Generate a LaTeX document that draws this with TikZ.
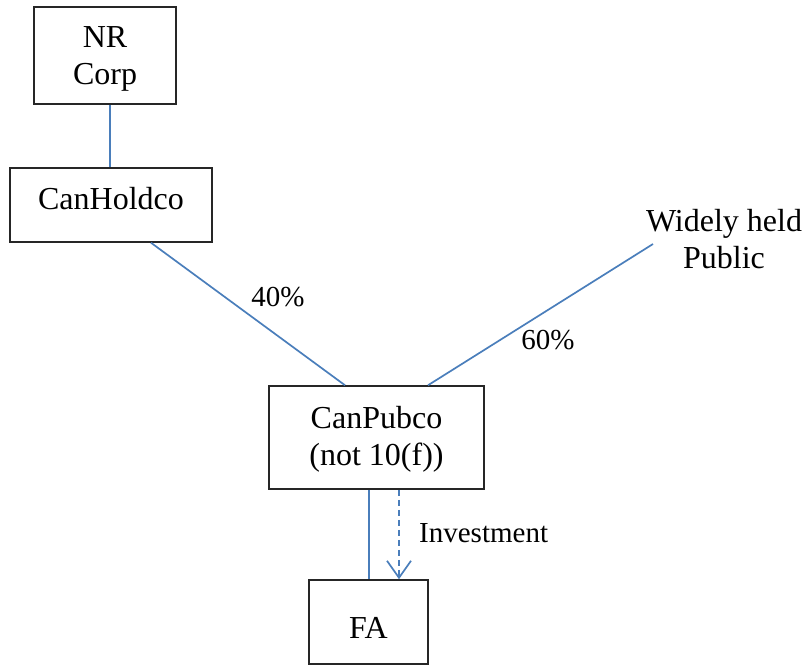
\documentclass[tikz,border=0pt]{standalone}
\usepackage{fontspec}
\setmainfont{Liberation Serif}
\usetikzlibrary{arrows.meta}
\definecolor{linkblue}{HTML}{4A7EBB}
\tikzset{
  ent/.style={draw=black!85, line width=1.5pt, align=center, inner sep=0pt,
    font=\fontsize{32}{37}\selectfont},
  plain/.style={align=center, inner sep=0pt, font=\fontsize{32}{37}\selectfont},
  lbl/.style={inner sep=0pt, font=\fontsize{29}{34}\selectfont},
  conn/.style={draw=linkblue, line width=1.7pt},
  invest/.style={draw=linkblue, line width=1.7pt, dash pattern=on 6pt off 4pt,
    -{Straight Barb[length=17pt,width=24pt,line width=1.7pt]}}
}
\begin{document}
\begin{tikzpicture}[x=1pt,y=-1pt]
\useasboundingbox (0,0) rectangle (806,665);
\node[ent, minimum width=142pt, minimum height=97pt] (nr) at (105,55.5) {};
\node[plain] (nrtxt) at (105,59) {NR\\Corp};
\node[ent, minimum width=202pt, minimum height=74pt] (hold) at (111,205) {};
\node[plain] (holdtxt) at (111,199) {CanHoldco};
\node[plain] (pub) at (724,239) {Widely held\\Public};
\node[ent, minimum width=215pt, minimum height=103pt] (pubco) at (376.5,437.5) {};
\node[plain] (pubcotxt) at (376.5,439) {CanPubco\\(not 10(f))};
\node[ent, minimum width=119pt, minimum height=84pt] (fa) at (368.5,622) {};
\node[plain] (fatxt) at (368.5,628) {FA};
\coordinate (pubend) at (653,244);
\draw[conn] ([xshift=5pt]nr.south) -- ([xshift=-1pt]hold.north);
\draw[conn] ([xshift=40pt]hold.south) -- ([xshift=-31.5pt]pubco.north);
\draw[conn] (pubend) -- ([xshift=51.5pt]pubco.north);
\draw[conn] ([xshift=-7.5pt]pubco.south) -- ([xshift=0.5pt]fa.north);
\draw[invest] ([xshift=22.5pt]pubco.south) -- ([xshift=30.5pt]fa.north);
\node[lbl] (l40) at (278,297) {40\%};
\node[lbl] (l60) at (548,340) {60\%};
\node[lbl, anchor=west] (inv) at (419,533) {Investment};
\end{tikzpicture}
\end{document}
